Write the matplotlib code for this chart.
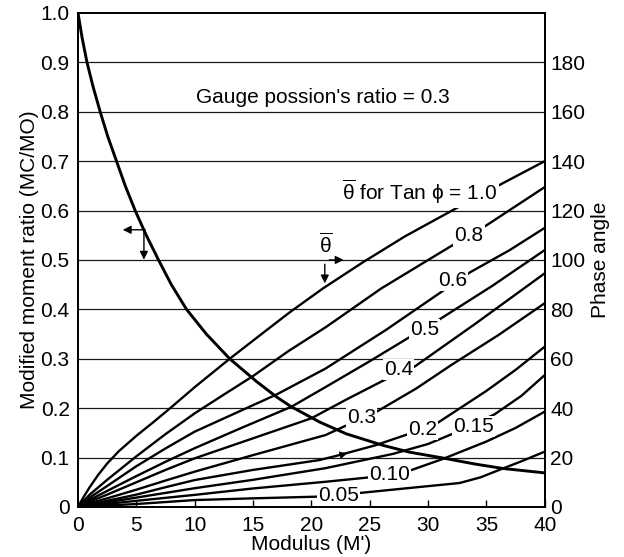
import matplotlib
matplotlib.use("Agg")
import matplotlib.pyplot as plt

plt.rcParams["font.family"] = ["Liberation Sans", "DejaVu Sans"]
plt.rcParams["mathtext.fontset"] = "custom"
plt.rcParams["mathtext.rm"] = "Liberation Sans"
plt.rcParams["mathtext.it"] = "Liberation Sans"

# Moment ratio curve (left axis)
mom_x = [0, 0.35, 0.77, 1.3, 1.9, 2.55, 3.3, 4.05, 4.9, 5.85, 6.9, 8.0, 9.3, 11.0, 13.0,
         15.3, 17.0, 18.2, 20.7, 23.0, 26.1, 28.4, 31.3, 34.0, 36.4, 40]
mom_y = [1.0, 0.95, 0.9, 0.85, 0.8, 0.75, 0.7, 0.65, 0.6, 0.55, 0.5, 0.45, 0.4, 0.35, 0.3,
         0.254, 0.223, 0.204, 0.172, 0.148, 0.125, 0.111, 0.099, 0.087, 0.078, 0.069]

# Phase angle curves (right axis, degrees), keyed by Tan phi
phase = {
    "1.0":  ([0, 0.5, 1, 1.7, 2.5, 3.5, 5, 6.5, 7.9, 10, 13, 16, 18.2, 21, 24.4, 28, 31.9, 35.3, 40],
             [0, 4.2, 8, 12.8, 17.6, 22.6, 28.8, 34.5, 40, 48.5, 60, 71, 79, 88.5, 99, 109.5, 119.6, 128.3, 140]),
    "0.8":  ([0, 1, 2.5, 5, 7.5, 10, 12.5, 15, 18, 21.3, 26, 31.9, 35, 40],
             [0, 5, 11, 20.5, 29.5, 37.9, 45.5, 53, 63, 73, 88.5, 105.4, 114, 129.5]),
    "0.6":  ([0, 1, 2.5, 5, 7.5, 10, 13.5, 17, 21.2, 26.4, 31.4, 33.6, 37, 40],
             [0, 3.8, 8.5, 16.5, 23.7, 30.5, 38, 45.5, 56, 71.7, 87.9, 95, 104, 113]),
    "0.5":  ([0, 1, 2.5, 5, 7.5, 10, 14, 18.3, 21.2, 25, 28.5, 31, 35.5, 40],
             [0, 2.9, 6.5, 12.5, 18.3, 23.8, 32, 40.6, 48.5, 59, 69, 76, 89.5, 104]),
    "0.4":  ([0, 1, 2.5, 5, 7.5, 10, 15, 20, 23, 26.3, 28.9, 34, 40],
             [0, 2.2, 5, 10, 15, 19.7, 27.8, 35.9, 43.5, 51.5, 57, 74, 94.6]),
    "0.3":  ([0, 1, 2.5, 5, 7.5, 10, 15, 21.2, 23, 25.6, 29, 32, 36, 40],
             [0, 1.5, 3.5, 7, 10.7, 14.3, 21, 29.1, 33, 38.6, 48, 57.5, 69.5, 82.5]),
    "0.2":  ([0, 2.5, 5, 7.5, 10, 15, 20.7, 22.4, 25.5, 28.3, 30.8, 35, 37.5, 40],
             [0, 2.5, 5, 8, 10.9, 15, 19, 21, 25, 29.5, 34, 47, 55.5, 64.9]),
    "0.15": ([0, 5, 10, 15, 21.2, 27, 30, 32.3, 35.7, 38, 40],
             [0, 3.8, 7.6, 11, 15.7, 21.5, 25.5, 30, 37.5, 45, 53.4]),
    "0.10": ([0, 5, 10, 15, 21.2, 25, 28.6, 31.3, 35, 37.5, 40],
             [0, 2.5, 4.9, 7.5, 10.2, 12, 15, 19.5, 26.5, 32, 38.6]),
    "0.05": ([0, 5, 10, 15, 20.7, 24.2, 28, 32.7, 34.5, 36.1, 38, 40],
             [0, 1.2, 2.8, 3.5, 4.2, 5.7, 7.5, 9.7, 12, 15, 18.5, 22.4]),
}

# inline label positions (x, degrees)
label_pos = {
    "0.8": (33.5, 110), "0.6": (32.1, 91.5), "0.5": (29.7, 71.7),
    "0.4": (27.5, 55.5), "0.3": (24.3, 36.4), "0.2": (29.5, 31.2),
    "0.15": (33.9, 32.4), "0.10": (26.7, 13), "0.05": (22.3, 4.5),
}

x_ticks = [0, 5, 10, 15, 20, 25, 30, 35, 40]
left_ticks = [0, 0.1, 0.2, 0.3, 0.4, 0.5, 0.6, 0.7, 0.8, 0.9, 1.0]
left_labels = ["0", "0.1", "0.2", "0.3", "0.4", "0.5", "0.6", "0.7", "0.8", "0.9", "1.0"]
right_ticks = [0, 20, 40, 60, 80, 100, 120, 140, 160, 180]

fig = plt.figure(figsize=(6.24, 5.57), dpi=100)
ax = fig.add_axes([0.125, 0.0898, 0.748, 0.887])
ax2 = ax.twinx()

fs = 15
for yv in left_ticks[1:-1]:
    ax.axhline(yv, color="0.1", lw=0.9, zorder=1)

ax.plot(mom_x, mom_y, color="black", lw=2.1, zorder=3)

for key, (xs, ys) in phase.items():
    ax2.plot(xs, ys, color="black", lw=1.7, zorder=3)
for key, (lx, ly) in label_pos.items():
    ax2.text(lx, ly, key, fontsize=fs, ha="center", va="center", zorder=5,
             bbox=dict(boxstyle="square,pad=0.05", fc="white", ec="none"))

ax2.text(22.6, 127.5, r"$\overline{\theta}$ for Tan $\phi$ = 1.0", fontsize=fs,
         ha="left", va="center", zorder=5,
         bbox=dict(boxstyle="square,pad=0.1", fc="white", ec="none"))

ax.text(10.1, 0.828, "Gauge possion's ratio = 0.3", fontsize=fs, ha="left", va="center")

# arrow annotations
arr = dict(arrowstyle="-|>", color="black", lw=1.0, mutation_scale=12)
ax.annotate("", xy=(3.6, 0.561), xytext=(6.0, 0.561), arrowprops=arr)
ax.annotate("", xy=(5.65, 0.495), xytext=(5.65, 0.563), arrowprops=arr)
ax.text(21.2, 0.53, r"$\overline{\theta}$", fontsize=fs, ha="center", va="center")
ax.annotate("", xy=(23.0, 0.5), xytext=(21.3, 0.5), arrowprops=arr)
ax.annotate("", xy=(21.15, 0.447), xytext=(21.15, 0.497), arrowprops=arr)
ax2.annotate("", xy=(23.3, 22.0), xytext=(21.2, 19.4),
             arrowprops=dict(arrowstyle="-|>", color="black", lw=0, mutation_scale=14))

ax.set_xlim(0, 40)
ax.set_ylim(0, 1.0)
ax2.set_ylim(0, 200)
ax.set_xticks(x_ticks)
ax.set_xticklabels([str(v) for v in x_ticks], fontsize=fs)
ax.set_yticks(left_ticks)
ax.set_yticklabels(left_labels, fontsize=fs)
ax2.set_yticks(right_ticks)
ax2.set_yticklabels([str(v) for v in right_ticks], fontsize=fs)

ax.tick_params(axis="x", direction="in", length=5, width=1, pad=6.5)
ax.tick_params(axis="y", length=0, pad=6)
ax2.tick_params(axis="y", length=0, pad=4)

for a in (ax, ax2):
    for s in a.spines.values():
        s.set_linewidth(1.3)

ax.set_xlabel("Modulus (M')", fontsize=fs, labelpad=0)
ax.set_ylabel("Modified moment ratio (MC/MO)", fontsize=fs)
ax.yaxis.set_label_coords(-0.083, 0.5)
ax2.set_ylabel("Phase angle", fontsize=fs)
ax2.yaxis.set_label_coords(1.10, 0.5)

fig.savefig("out.png", dpi=100)
